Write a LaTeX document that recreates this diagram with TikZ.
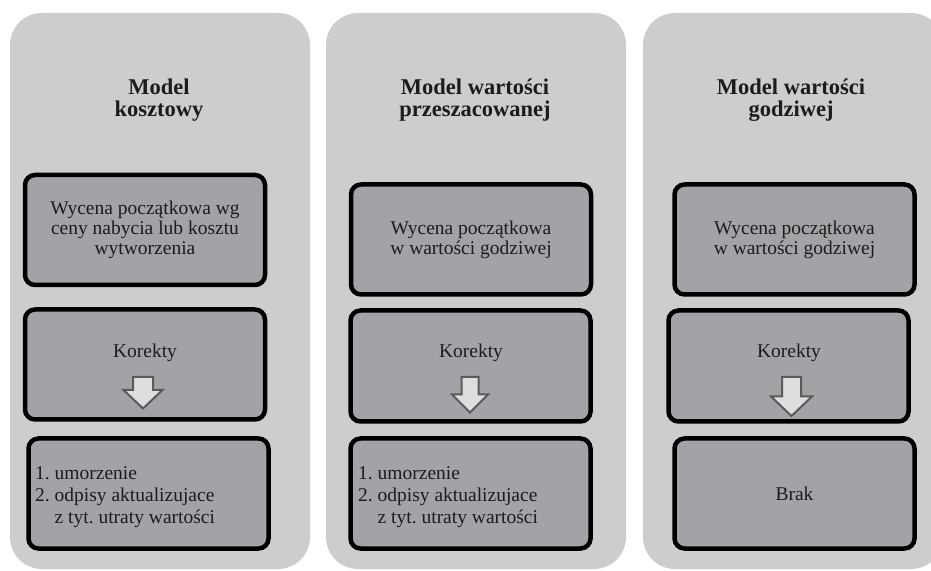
\documentclass[tikz,border=0pt]{standalone}
\usepackage{fontspec}
\setmainfont{Liberation Serif}
\definecolor{panelgray}{HTML}{CDCDCD}
\definecolor{boxgray}{HTML}{A3A2A7}
\definecolor{txt}{HTML}{1C1C1C}
\definecolor{arrowfill}{HTML}{DEDEDE}
\definecolor{arrowline}{HTML}{5A5A5A}
\begin{document}
\frenchspacing
\begin{tikzpicture}[x=1pt,y=1pt,
  panel/.style={fill=panelgray, draw=none, rounded corners=32pt},
  stepbox/.style={draw=black, line width=4.5pt, fill=boxgray, rounded corners=10pt,
    minimum width=240pt, minimum height=110pt, inner sep=0pt},
  title/.style={font=\bfseries\fontsize{22.5}{22.5}\selectfont, text=txt, align=center},
  body/.style={font=\fontsize{19.5}{20}\selectfont, text=txt, align=center},
  listtxt/.style={font=\fontsize{19.5}{22}\selectfont, text=txt, align=left, anchor=west, inner sep=0pt},
  blockarrow/.style={fill=arrowfill, draw=arrowline, line width=2pt, line join=miter}
]
\useasboundingbox (0,0) rectangle (931,570);
\clip (0,0) rectangle (931,570);
\fill[white] (0,0) rectangle (931,570);

% panels
\fill[panel] (10,1) rectangle (310,557);
\fill[panel] (326,1) rectangle (626,557);
\fill[panel] (643,1) rectangle (943,557);

% titles
\node[title] (t1) at (159,470) {Model\\kosztowy};
\node[title] (t2) at (475,470) {Model wartości\\przeszacowanej};
\node[title] (t3) at (791,470) {Model wartości\\godziwej};

% panel 1
\node[stepbox] (a1) at (145,340) {};
\node[body] at (a1.center) {Wycena początkowa wg\\ceny nabycia lub kosztu\\wytworzenia};
\node[stepbox] (b1) at (145,205.5) {};
\node[body] (k1) at (145,217) {Korekty};
\node[stepbox] (c1) at (148.5,76.5) {};
\node[listtxt] (l1) at (35,73) {1.~umorzenie\\2.~odpisy aktualizujace\\\phantom{2.~}z tyt. utraty wartości};

% panel 2
\node[stepbox] (a2) at (471,330.5) {};
\node[body] at (a2.center) {Wycena początkowa\\w wartości godziwej};
\node[stepbox, minimum height=111pt] (b2) at (470.5,204) {};
\node[body] (k2) at (471,217) {Korekty};
\node[stepbox] (c2) at (470.5,76.5) {};
\node[listtxt] (l2) at (358,73) {1.~umorzenie\\2.~odpisy aktualizujace\\\phantom{2.~}z tyt. utraty wartości};

% panel 3
\node[stepbox] (a3) at (794.5,330.5) {};
\node[body] at (a3.center) {Wycena początkowa\\w wartości godziwej};
\node[stepbox, minimum height=111pt] (b3) at (788.5,204) {};
\node[body] (k3) at (789,217) {Korekty};
\node[stepbox] (c3) at (794.5,76.5) {};
\node[body] (br) at (c3.center) {Brak};

% block arrows
\draw[blockarrow] (133,193) -- (153,193) -- (153,180) -- (162.5,180) -- (143,161.5)
  -- (123.5,180) -- (133,180) -- cycle;
\draw[blockarrow] (461.5,193) -- (478.5,193) -- (478.5,175.5) -- (488,175.5) -- (470,157.5)
  -- (452,175.5) -- (461.5,175.5) -- cycle;
\draw[blockarrow] (782,193) -- (801,193) -- (801,173.5) -- (812,173.5) -- (791.5,154)
  -- (771,173.5) -- (782,173.5) -- cycle;
\end{tikzpicture}
\end{document}
